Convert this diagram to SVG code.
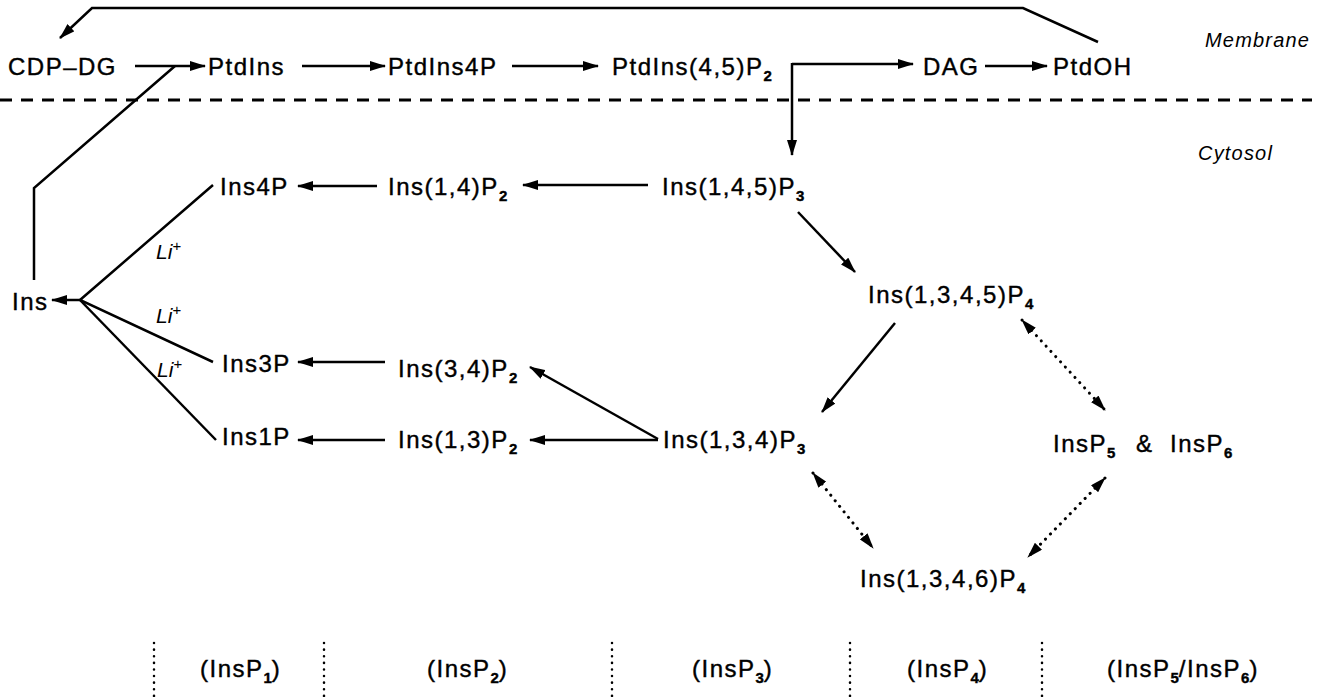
<svg xmlns="http://www.w3.org/2000/svg" width="1322" height="697" viewBox="0 0 1322 697">
<style>
  .t { font-family: "Liberation Sans", Arial, sans-serif; font-size: 24px; letter-spacing: 1.5px; fill: #000; stroke: #000; stroke-width: 0.4px; }
  .s { font-size: 15px; font-weight: bold; letter-spacing: 0; }
  .it { font-family: "Liberation Sans", Arial, sans-serif; font-style: italic; font-size: 20px; letter-spacing: 1.2px; fill: #000; }
  .li { font-family: "Liberation Sans", Arial, sans-serif; font-style: italic; font-size: 21px; fill: #000; }
  .ln { fill: none; stroke: #000; stroke-width: 2.5; }
  .ar { fill: none; stroke: #000; stroke-width: 2.5; marker-end: url(#ah); }
  .dot { fill: none; stroke: #000; stroke-width: 3; stroke-dasharray: 0.1 7; stroke-linecap: round; marker-start: url(#ah); marker-end: url(#ah); }
  .vd { fill: none; stroke: #000; stroke-width: 2.5; stroke-dasharray: 0.1 6.5; stroke-linecap: round; }
  .dash { fill: none; stroke: #000; stroke-width: 3; stroke-dasharray: 12 9; }
</style>
<defs>
  <marker id="ah" viewBox="0 0 16 10" refX="15" refY="5" markerWidth="16" markerHeight="10" markerUnits="userSpaceOnUse" orient="auto-start-reverse">
    <path d="M0,0 L16,5 L0,10 z" fill="#000"/>
  </marker>
</defs>

<g id="connectors">
  <line class="dash" x1="0" y1="100" x2="1312" y2="100"/>
  <polyline class="ar" points="1098,42 1023,8 92,8 60,38"/>
  <line class="ar" x1="135" y1="66" x2="205" y2="66"/>
  <polyline class="ln" points="34,280 34,188 175,66"/>
  <line class="ar" x1="302" y1="66" x2="385" y2="66"/>
  <line class="ar" x1="512" y1="66" x2="598" y2="66"/>
  <line class="ar" x1="792" y1="64" x2="913" y2="64"/>
  <line class="ar" x1="792" y1="63" x2="792" y2="155"/>
  <line class="ar" x1="985" y1="66" x2="1047" y2="66"/>
  <line class="ar" x1="648" y1="185" x2="523" y2="185"/>
  <line class="ar" x1="377" y1="186" x2="298" y2="186"/>
  <line class="ar" x1="798" y1="212" x2="855" y2="272"/>
  <line class="ar" x1="895" y1="323" x2="822" y2="412"/>
  <line class="ar" x1="658" y1="439" x2="530" y2="367"/>
  <line class="ar" x1="658" y1="440" x2="530" y2="440"/>
  <line class="ar" x1="385" y1="362" x2="298" y2="362"/>
  <line class="ar" x1="385" y1="440" x2="298" y2="440"/>
  <polyline class="ln" points="213,185 80,300 213,362"/>
  <line class="ln" x1="80" y1="300" x2="216" y2="440"/>
  <line class="ar" x1="82" y1="300" x2="52" y2="300"/>
  <line class="dot" x1="1022" y1="320" x2="1105" y2="410"/>
  <line class="dot" x1="813" y1="473" x2="873" y2="548"/>
  <line class="dot" x1="1105" y1="478" x2="1028" y2="557"/>
  <line class="vd" x1="154" y1="643" x2="154" y2="697"/>
  <line class="vd" x1="324" y1="643" x2="324" y2="697"/>
  <line class="vd" x1="612" y1="643" x2="612" y2="697"/>
  <line class="vd" x1="850" y1="643" x2="850" y2="697"/>
  <line class="vd" x1="1042" y1="643" x2="1042" y2="697"/>
</g>

<g id="membrane-label"><text class="it" x="1205" y="47">Membrane</text></g>
<g id="cytosol-label"><text class="it" x="1198" y="160">Cytosol</text></g>

<g id="cdpdg"><text class="t" x="8" y="75">CDP–DG</text></g>
<g id="ptdins"><text class="t" x="208" y="75">PtdIns</text></g>
<g id="ptdins4p"><text class="t" x="388" y="75">PtdIns4P</text></g>
<g id="ptdins45p2"><text class="t" x="612" y="75">PtdIns(4,5)P<tspan class="s" dy="6">2</tspan></text></g>
<g id="dag"><text class="t" x="923" y="75">DAG</text></g>
<g id="ptdoh"><text class="t" x="1053" y="75">PtdOH</text></g>

<g id="ins4p"><text class="t" x="220" y="195">Ins4P</text></g>
<g id="ins14p2"><text class="t" x="388" y="195">Ins(1,4)P<tspan class="s" dy="6">2</tspan></text></g>
<g id="ins145p3"><text class="t" x="662" y="195">Ins(1,4,5)P<tspan class="s" dy="6">3</tspan></text></g>
<g id="ins"><text class="t" x="12" y="310">Ins</text></g>
<g id="li1"><text class="li" x="156" y="259">Li<tspan font-size="15" dy="-8">+</tspan></text></g>
<g id="li2"><text class="li" x="156" y="323">Li<tspan font-size="15" dy="-8">+</tspan></text></g>
<g id="li3"><text class="li" x="157" y="377">Li<tspan font-size="15" dy="-8">+</tspan></text></g>
<g id="ins1345p4"><text class="t" x="868" y="303">Ins(1,3,4,5)P<tspan class="s" dy="6">4</tspan></text></g>
<g id="ins3p"><text class="t" x="222" y="372">Ins3P</text></g>
<g id="ins34p2"><text class="t" x="398" y="377">Ins(3,4)P<tspan class="s" dy="6">2</tspan></text></g>
<g id="ins1p"><text class="t" x="222" y="445">Ins1P</text></g>
<g id="ins13p2"><text class="t" x="398" y="448">Ins(1,3)P<tspan class="s" dy="6">2</tspan></text></g>
<g id="ins134p3"><text class="t" x="663" y="448">Ins(1,3,4)P<tspan class="s" dy="6">3</tspan></text></g>
<g id="insp5p6"><text class="t" x="1053" y="452">InsP<tspan class="s" dy="6">5</tspan><tspan dy="-6" x="1136">&amp;</tspan><tspan x="1170">InsP</tspan><tspan class="s" dy="6">6</tspan></text></g>
<g id="ins1346p4"><text class="t" x="860" y="587">Ins(1,3,4,6)P<tspan class="s" dy="6">4</tspan></text></g>

<g id="class-labels">
  <text class="t" x="200" y="677">(InsP<tspan class="s" dy="6">1</tspan><tspan dy="-6">)</tspan></text>
  <text class="t" x="427" y="677">(InsP<tspan class="s" dy="6">2</tspan><tspan dy="-6">)</tspan></text>
  <text class="t" x="692" y="677">(InsP<tspan class="s" dy="6">3</tspan><tspan dy="-6">)</tspan></text>
  <text class="t" x="907" y="677">(InsP<tspan class="s" dy="6">4</tspan><tspan dy="-6">)</tspan></text>
  <text class="t" x="1107" y="677">(InsP<tspan class="s" dy="6">5</tspan><tspan dy="-6">/InsP</tspan><tspan class="s" dy="6">6</tspan><tspan dy="-6">)</tspan></text>
</g>
</svg>
